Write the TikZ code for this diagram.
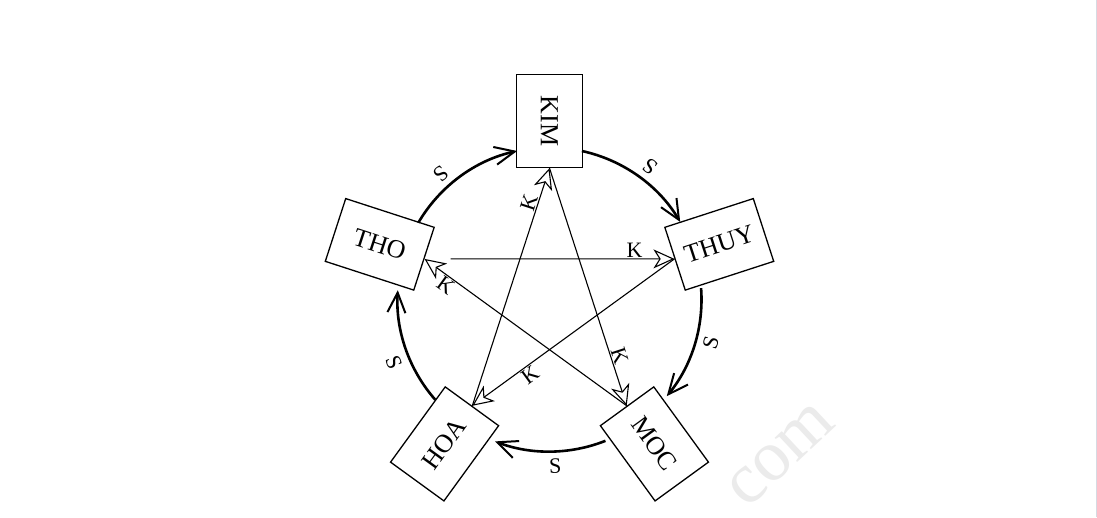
\documentclass[tikz,border=0pt]{standalone}
\usepackage{fontspec}
\setmainfont{Liberation Serif}
\usetikzlibrary{arrows.meta,calc}
\begin{document}
\begin{tikzpicture}[x=1pt,y=1pt,
  box/.style={draw, line width=1.3pt, minimum width=93pt, minimum height=66pt, inner sep=0pt, font=\fontsize{26}{30}\selectfont},
  kline/.style={line width=1.1pt, -{Stealth[open, length=21pt, width=19pt, inset=6pt, line width=1.1pt]}},
  sarc/.style={line width=2.6pt, -{Straight Barb[length=20pt, width=18pt, line width=2pt]}},
  klab/.style={font=\fontsize{22}{24}\selectfont, inner sep=1pt, sloped},
  slab/.style={font=\fontsize{22}{24}\selectfont, inner sep=0pt},
]
\useasboundingbox (0,0) rectangle (1097,517);
\fill[white] (0,0) rectangle (1097,517);
\draw[line width=1pt, color={rgb,255:red,214;green,218;blue,226}] (1096.5,0) -- (1096.5,517);
\node[rotate=43, text=black!8, inner sep=0pt, font=\fontsize{72}{72}\selectfont] (wm) at (781,62) {com};
\coordinate (c) at (549.5,217.5);
% boxes
\node[box, rotate=-90] (kim)  at ($(c)+(90:178.5)$)  {KIM};
\node[box, rotate=18]  (thuy) at ($(c)+(18:178.5)$)  {THUY};
\node[box, rotate=-54] (moc)  at ($(c)+(-54:178.5)$) {MOC};
\node[box, rotate=54]  (hoa)  at ($(c)+(-126:178.5)$) {HOA};
\node[box, rotate=-18] (tho)  at ($(c)+(162:178.5)$) {THO};
% generating cycle (S)
\draw[sarc] ([shift={(77.7:152)}]c) arc[start angle=77.7, end angle=30.7, radius=152];
\draw[sarc] ([shift={(4.3:152)}]c) arc[start angle=4.3, end angle=-39.5, radius=152];
\draw[sarc] ([shift={(-68.4:152)}]c) arc[start angle=-68.4, end angle=-111, radius=152];
\draw[sarc] ([shift={(-138.7:152)}]c) arc[start angle=-138.7, end angle=-183.5, radius=152];
\draw[sarc] ([shift={(-210.3:152)}]c) arc[start angle=-210.3, end angle=-257.7, radius=152];
\node[slab, rotate=143] (s1) at ($(c)+(53:167)$) {S};
\node[slab, rotate=75]  (s2) at ($(c)+(-15:167)$) {S};
\node[slab, rotate=2]   (s3) at ($(c)+(-88:167)$) {S};
\node[slab, rotate=-68] (s4) at ($(c)+(-158:168)$) {S};
\node[slab, rotate=221] (s5) at ($(c)+(131:166)$) {S};
% controlling star (K)
\draw[kline] (kim.east) -- (moc.west) node[klab, pos=0.8, above] {K};
\draw[kline] (hoa.east) -- (kim.east) node[klab, pos=0.843, above] {K};
\draw[kline, shorten <=26pt] (tho.east) -- (thuy.west) node[klab, pos=0.84, above] {K};
\draw[kline] (moc.west) -- (tho.east) node[klab, pos=0.87, below] {K};
\draw[kline] (thuy.west) -- (hoa.east) node[klab, pos=0.74, below] {K};
\end{tikzpicture}
\end{document}
